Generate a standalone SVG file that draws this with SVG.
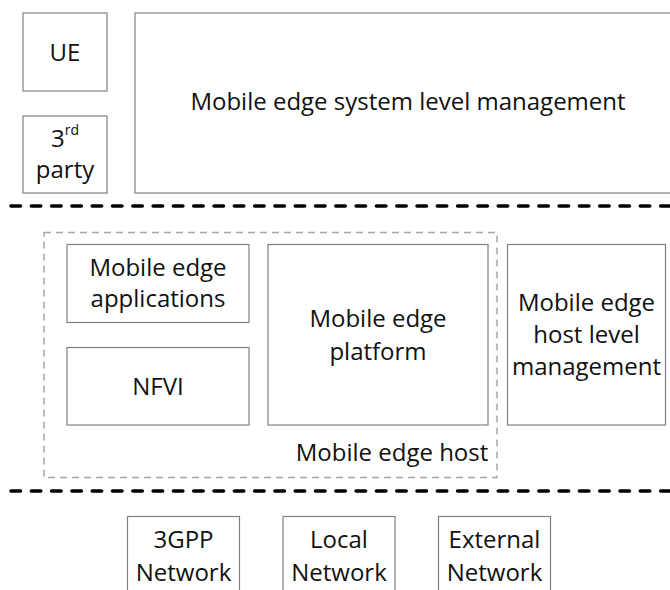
<svg xmlns="http://www.w3.org/2000/svg" width="670" height="590" viewBox="0 0 670 590">
<style>
.box{fill:#fff;stroke:#808080;stroke-width:1.2}
.t{font-family:"Open Sans","Liberation Sans",sans-serif;font-size:24px;fill:#111;text-anchor:middle}
.sep{stroke:#000;stroke-width:3.5;stroke-linecap:round;stroke-dasharray:9.5 10.8;fill:none}
.host{fill:none;stroke:#a6a6a6;stroke-width:1.5;stroke-dasharray:7 5}
</style>
<rect width="670" height="590" fill="#fff"/>
<g id="ue"><rect class="box" x="23" y="13" width="84" height="78"/><text class="t" x="65" y="61">UE</text></g>
<g id="third-party"><rect class="box" x="23" y="116" width="84" height="77"/><text class="t" x="65" y="147">3<tspan font-size="14" dy="-12">rd</tspan></text><text class="t" x="65" y="178">party</text></g>
<g id="system-mgmt"><rect class="box" x="135" y="13" width="545" height="180"/><text class="t" x="408" y="110">Mobile edge system level management</text></g>
<g id="connectors">
<line class="sep" x1="11" y1="206" x2="670" y2="206"/>
<line class="sep" x1="11" y1="491" x2="670" y2="491"/>
</g>
<g id="mobile-edge-host"><rect class="host" x="44" y="232.5" width="453" height="245"/><text class="t" x="392" y="461">Mobile edge host</text></g>
<g id="applications"><rect class="box" x="67" y="244.5" width="182" height="78"/><text class="t" x="158" y="276">Mobile edge</text><text class="t" x="158" y="307">applications</text></g>
<g id="nfvi"><rect class="box" x="67" y="347.5" width="182" height="77.5"/><text class="t" x="158" y="395">NFVI</text></g>
<g id="platform"><rect class="box" x="268" y="244.5" width="220" height="180.5"/><text class="t" x="378" y="327">Mobile edge</text><text class="t" x="378" y="360">platform</text></g>
<g id="host-mgmt"><rect class="box" x="507.5" y="244.5" width="158" height="180.5"/><text class="t" x="586.5" y="311">Mobile edge</text><text class="t" x="586.5" y="343">host level</text><text class="t" x="586.5" y="375">management</text></g>
<g id="3gpp"><rect class="box" x="127.5" y="516.5" width="112" height="90"/><text class="t" x="183.5" y="548">3GPP</text><text class="t" x="183.5" y="581">Network</text></g>
<g id="local"><rect class="box" x="283" y="516.5" width="112" height="90"/><text class="t" x="339" y="548">Local</text><text class="t" x="339" y="581">Network</text></g>
<g id="external"><rect class="box" x="438.5" y="516.5" width="112" height="90"/><text class="t" x="494.5" y="548">External</text><text class="t" x="494.5" y="581">Network</text></g>
</svg>
